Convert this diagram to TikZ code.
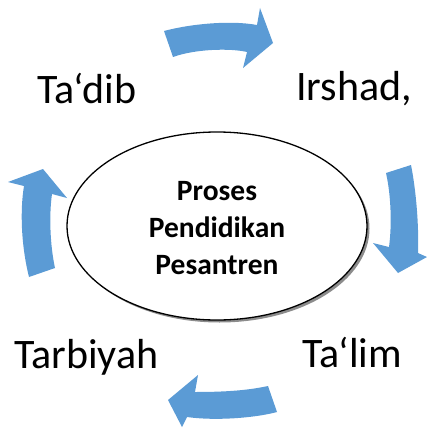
\documentclass[tikz,border=0pt]{standalone}
\usepackage{fontspec}
\setmainfont{Carlito}
\usetikzlibrary{shapes,shadows}

\definecolor{arrowblue}{HTML}{5B9BD5}
\tikzset{
  cyclelabel/.style={font=\fontsize{42}{50}\selectfont, inner sep=0pt, anchor=base west},
  cyclearrow/.style={fill=arrowblue, draw=none},
  centre/.style={ellipse, draw=black, line width=1.3pt, fill=white,
    minimum width=300pt, minimum height=188pt, inner sep=0pt,
    drop shadow={shadow xshift=2.5pt, shadow yshift=-2.5pt, fill=black!45, opacity=1}}
}

\begin{document}
\begin{tikzpicture}[x=1pt,y=-1pt]
        \useasboundingbox (0,0) rectangle (426,428);

        % Central ellipse
        \node[centre] (proses) at (217,226) {};
        \node[align=center, font=\fontsize{29.5}{37}\selectfont\bfseries] (prosestext) at (217,228)
            {Proses\\Pendidikan\\Pesantren};

        % Stage labels
        \node[cyclelabel] (tadib) at (37,103) {Ta‘dib};
        \node[cyclelabel] (irshad) at (296,100) {Irshad,};
        \node[cyclelabel] (talim) at (302,367) {Ta‘lim};
        \node[cyclelabel] (tarbiyah) at (14,368) {Tarbiyah};

        % Top arrow
        \fill[cyclearrow] (164,31) .. controls (190,24) and (230,20) .. (257,25) -- (260,8) -- (273,43)
            -- (243,68) -- (247,52) .. controls (230,48) and (195,49) .. (173,57) -- cycle;
        % Right arrow
        \fill[cyclearrow] (386,173) -- (411,165) .. controls (416,190) and (419,225) .. (418,253)
            -- (427,257) -- (398,273) -- (373,243) -- (389,247) .. controls (392,225) and (391,195) .. (386,173) -- cycle;
        % Bottom arrow
        \fill[cyclearrow] (268,386) -- (277,412) .. controls (255,418) and (215,421) .. (187,417)
            -- (182,427) -- (168,400) -- (198,375) -- (195,392) .. controls (220,392) and (245,391) .. (268,386) -- cycle;
        % Left arrow
        \fill[cyclearrow] (29,277) -- (55,268) .. controls (50,245) and (49,215) .. (52,194)
            -- (67,198) -- (43,169) -- (8,182) -- (24,186) .. controls (20,210) and (21,245) .. (29,277) -- cycle;
\end{tikzpicture}
\end{document}
